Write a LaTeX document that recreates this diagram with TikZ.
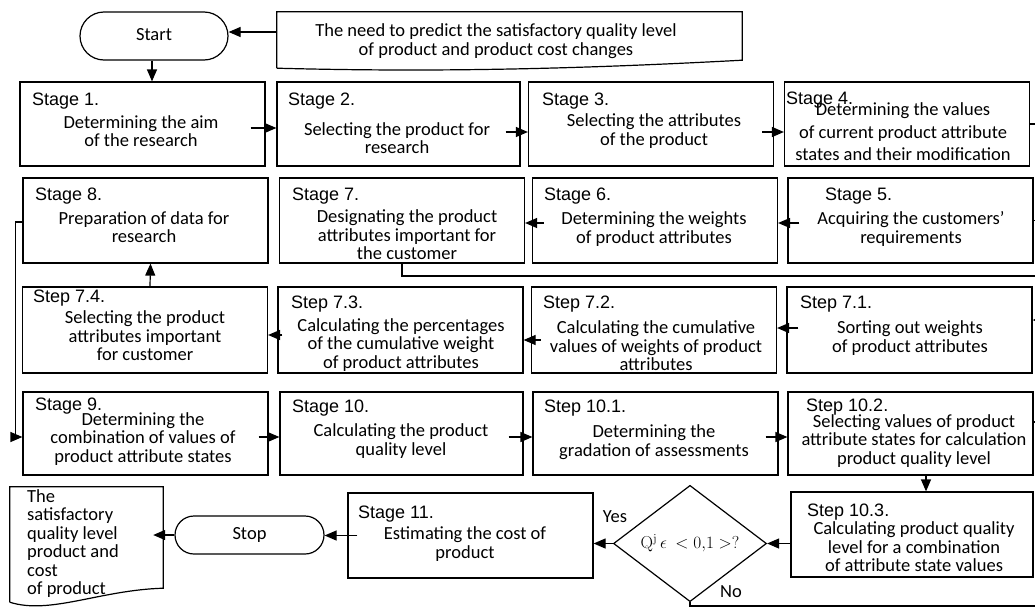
\documentclass[tikz,border=0pt]{standalone}
\usepackage[no-math]{fontspec}
\setmainfont{Carlito}
\newfontfamily\headfont{Liberation Sans}
\usetikzlibrary{arrows.meta,shapes.geometric,shapes.misc}

\tikzset{
  box/.style={draw, line width=1.2pt, minimum width=245pt, minimum height=85pt, inner sep=0pt},
  head/.style={anchor=base west, inner sep=0pt, font=\headfont\fontsize{18}{20}\selectfont},
  body/.style={align=center, inner sep=0pt, font=\fontsize{18.5}{18.5}\selectfont},
  term/.style={draw, rounded rectangle, line width=1.2pt, inner sep=0pt, font=\fontsize{18.5}{18.5}\selectfont},
  decision/.style={draw, diamond, line width=1.2pt, inner sep=0pt, minimum width=153pt, minimum height=109pt, font=\fontsize{16.5}{18}\selectfont},
  frame/.style={inner sep=0pt},
  wire/.style={line width=1.2pt},
  arr/.style={line width=1.2pt, -{Triangle[length=12pt,width=10pt]}}
}

\begin{document}
\begin{tikzpicture}[x=1pt, y=-1pt]
    \useasboundingbox (0,0) rectangle (1035,608);
    \clip (0,0) rectangle (1035,608);

    % start and input document
    \node[term, minimum width=148pt, minimum height=48pt] (start) at (154,36) {\raisebox{4pt}{Start}};
    \node[frame, minimum width=465pt, minimum height=56pt] (need) at (509.5,40) {};
    \draw[wire] (need.south west) -- (need.north west) -- (need.north east) -- ([yshift=8pt]need.south east) .. controls (560,70) and (420,72) .. (need.south west);
    \node[body] (needt) at (496,41) {The need to predict the satisfactory quality level\\of product and product cost changes};

    % row 1
    \node[box, minimum height=84pt] (s1) at (142.5,124) {};
    \node[box, minimum height=84pt, minimum width=243pt] (s2) at (398.5,124) {};
    \node[box, minimum height=84pt] (s3) at (651,124) {};
    \node[box, minimum height=84pt] (s4) at (907,124) {};
    \node[head] (s1h) at (32,105) {Stage 1.};
    \node[head] (s2h) at (288,105) {Stage 2.};
    \node[head] (s3h) at (542,105) {Stage 3.};
    \node[head] (s4h) at (786,104) {Stage 4.};
    \node[body] (s1t) at (141,131) {Determining the aim\\of the research};
    \node[body] (s2t) at (397,138) {Selecting the product for\\research};
    \node[body] (s3t) at (654,131) {Selecting the attributes\\of the product};
    \node[body, font=\fontsize{18.5}{22.5}\selectfont] (s4t) at (903,132) {Determining the values\\of current product attribute\\states and their modification};

    % row 2
    \node[box] (s8) at (145.5,220.5) {};
    \node[box] (s7) at (402,220.5) {};
    \node[box] (s6) at (655,220.5) {};
    \node[box] (s5) at (910.5,220.5) {};
    \node[head] (s8h) at (35,200) {Stage 8.};
    \node[head] (s7h) at (292,200) {Stage 7.};
    \node[head] (s6h) at (544,200) {Stage 6.};
    \node[head] (s5h) at (825,200) {Stage 5.};
    \node[body] (s8t) at (144,227) {Preparation of data for\\research};
    \node[body] (s7t) at (407,235) {Designating the product\\attributes important for\\the customer};
    \node[body] (s6t) at (654,229) {Determining the weights\\of product attributes};
    \node[body] (s5t) at (911,229) {Acquiring the customers'\\requirements};

    % row 3
    \node[box, minimum height=86pt] (t74) at (145,330) {};
    \node[box, minimum height=86pt] (t73) at (400.5,330) {};
    \node[box, minimum height=86pt] (t72) at (654,330) {};
    \node[box, minimum height=86pt] (t71) at (909.5,330) {};
    \node[head] (t74h) at (33,302) {Step 7.4.};
    \node[head] (t73h) at (291,308) {Step 7.3.};
    \node[head] (t72h) at (543,308) {Step 7.2.};
    \node[head] (t71h) at (800,308) {Step 7.1.};
    \node[body] (t74t) at (145,336) {Selecting the product\\attributes important\\for customer};
    \node[body] (t73t) at (401,345) {Calculating the percentages\\of the cumulative weight\\of product attributes};
    \node[body] (t72t) at (656,346) {Calculating the cumulative\\values of weights of product\\attributes};
    \node[body] (t71t) at (910,338) {Sorting out weights\\of product attributes};

    % row 4
    \node[box, minimum height=83pt] (s9) at (145.5,433.5) {};
    \node[box, minimum height=83pt, minimum width=243pt] (s10) at (401.5,433.5) {};
    \node[box, minimum height=83pt] (t101) at (655.5,433.5) {};
    \node[box, minimum height=83pt] (t102) at (910.5,433.5) {};
    \node[head] (s9h) at (35,410) {Stage 9.};
    \node[head] (s10h) at (292,412) {Stage 10.};
    \node[head] (t101h) at (544,412) {Step 10.1.};
    \node[head] (t102h) at (806,411) {Step 10.2.};
    \node[body] (s9t) at (143,439) {Determining the\\combination of values of\\product attribute states};
    \node[body] (s10t) at (401,441) {Calculating the product\\quality level};
    \node[body] (t101t) at (654,442) {Determining the\\gradation of assessments};
    \node[body] (t102t) at (914,441) {Selecting values of product\\attribute states for calculation\\product quality level};

    % row 5
    \node[box] (s11) at (470.5,535.5) {};
    \node[box, minimum width=242pt] (t103) at (912,534.5) {};
    \node[head] (s11h) at (358,518) {Stage 11.};
    \node[head] (t103h) at (807,516) {Step 10.3.};
    \node[body] (s11t) at (465,544) {Estimating the cost of\\product};
    \node[body] (t103t) at (914,547) {Calculating product quality\\level for a combination\\of attribute state values};
    \node[decision] (dia) at (690,543.5) {$\mathrm{Q}^{\mathrm{j}}\,\epsilon\ <0{,}1>?$};
    \node[body] (yes) at (615,517) {Yes};
    \node[body] (no) at (731,592) {No};
    \node[term, minimum width=149pt, minimum height=38pt] (stop) at (249.5,535) {Stop};
    \node[frame, minimum width=153pt, minimum height=120pt] (out) at (86.5,547) {};
    \draw[wire] ([yshift=5pt]out.south west) -- (out.north west) -- (out.north east) -- ([yshift=19pt]out.south east) .. controls (100,590) and (50,615) .. ([yshift=5pt]out.south west);
    \node[body, align=left, anchor=west] (outt) at (27,543.5) {The\\satisfactory\\quality level\\product and\\cost\\of product};

    % connectors
    \draw[arr] ([yshift=4pt]need.west |- start.east) -- ([yshift=4pt]start.east);
    \draw[arr] ([xshift=-2pt]start.south) -- ([xshift=-2pt]start.south |- s1.north);
    \draw[arr] ([xshift=-15pt,yshift=-4pt]s1.east) -- ([yshift=-4pt]s2.west);
    \draw[arr] ([xshift=-15pt,yshift=-8pt]s2.east) -- ([yshift=-8pt]s3.west);
    \draw[arr] ([xshift=-12pt,yshift=-8pt]s3.east) -- ([yshift=-8pt]s4.west);
    \draw[wire] (s4.east) -- ++(20,0) |- (s5.east);
    \draw[arr] ([xshift=12pt,yshift=-2.5pt]s5.west) -- ([yshift=-2.5pt]s6.east);
    \draw[arr] ([xshift=12pt,yshift=-2.5pt]s6.west) -- ([yshift=-2.5pt]s7.east);
    \draw[arr] (s7.south) |- (1050,276) |- ([yshift=10pt]t71.east);
    \draw[arr] ([xshift=12pt,yshift=2pt]t71.west) -- ([yshift=2pt]t72.east);
    \draw[arr] ([xshift=10pt,yshift=-10pt]t72.west) -- ([yshift=-10pt]t73.east);
    \draw[arr] ([xshift=5pt,yshift=-5pt]t73.west) -- ([yshift=-5pt]t74.east);
    \draw[arr] ([xshift=5pt]t74.north) -- ([xshift=5pt]s8.south);
    \draw[arr] ([yshift=-1.5pt]s8.west) -- ++(-7,0) |- ([yshift=-3.5pt]s9.west);
    \draw[arr] ([xshift=-10pt,yshift=-3.5pt]s9.east) -- ([yshift=-3.5pt]s10.west);
    \draw[arr] ([xshift=-15pt,yshift=-3.5pt]s10.east) -- ([yshift=-3.5pt]t101.west);
    \draw[arr] ([xshift=-13pt,yshift=-3.5pt]t101.east) -- ([yshift=-3.5pt]t102.west);
    \draw[arr] ([xshift=15.5pt]t102.south) -- ([xshift=15.5pt]t102.south |- t103.north);
    \draw[arr] (t103.west |- dia.east) -- (dia.east);
    \draw[arr] (dia.west) -- (dia.west -| s11.east);
    \draw[arr] ([xshift=10pt]s11.west) -- (s11.west -| stop.east);
    \draw[arr] (stop.west) -- ([xshift=-10pt]stop.west -| out.east);
    \draw[wire] (dia.south) |- (1050,606) |- ([yshift=11.5pt]t102.east);
\end{tikzpicture}
\end{document}
